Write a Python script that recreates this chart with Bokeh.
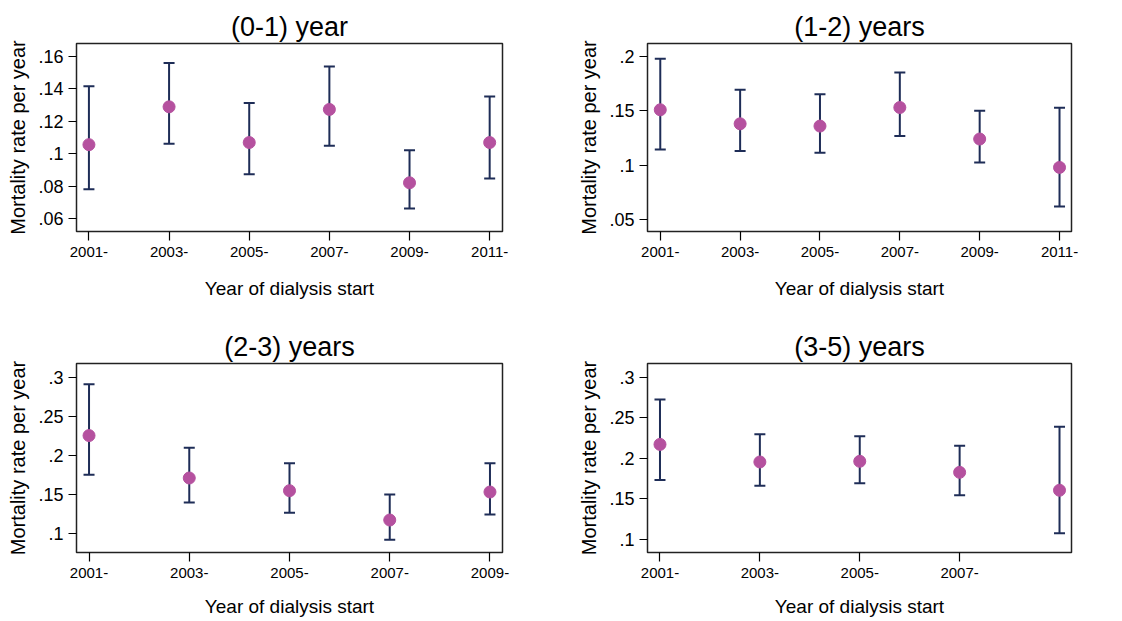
from bokeh.plotting import figure
from bokeh.layouts import column, row
from bokeh.models import ColumnDataSource, Whisker, TeeHead, FixedTicker, Range1d
from bokeh.embed import file_html
from bokeh.resources import INLINE

# ---------------- data ----------------
titles = ["(0-1) year", "(1-2) years", "(2-3) years", "(3-5) years"]

years_p1 = [2001, 2003, 2005, 2007, 2009, 2011]
rate_p1 = [0.1057, 0.129, 0.107, 0.1274, 0.0822, 0.107]
upper_p1 = [0.1417, 0.156, 0.1313, 0.1538, 0.1022, 0.1354]
lower_p1 = [0.0783, 0.1063, 0.0874, 0.105, 0.0663, 0.0849]

years_p2 = [2001, 2003, 2005, 2007, 2009, 2011]
rate_p2 = [0.151, 0.1381, 0.136, 0.1531, 0.1241, 0.098]
upper_p2 = [0.198, 0.1694, 0.1654, 0.1853, 0.1501, 0.1529]
lower_p2 = [0.1145, 0.113, 0.1115, 0.1268, 0.1026, 0.0621]

years_p3 = [2001, 2003, 2005, 2007, 2009]
rate_p3 = [0.2254, 0.1712, 0.155, 0.1175, 0.1533]
upper_p3 = [0.291, 0.21, 0.19, 0.15, 0.19]
lower_p3 = [0.1755, 0.14, 0.1269, 0.0923, 0.1246]

years_p4 = [2001, 2003, 2005, 2007, 2009]
rate_p4 = [0.217, 0.1953, 0.1961, 0.1825, 0.1604]
upper_p4 = [0.2725, 0.2294, 0.2269, 0.2154, 0.2388]
lower_p4 = [0.1731, 0.1661, 0.169, 0.1542, 0.1074]

xticks_p1 = [2001, 2003, 2005, 2007, 2009, 2011]
xlabels_p1 = ["2001-", "2003-", "2005-", "2007-", "2009-", "2011-"]
xticks_p2 = [2001, 2003, 2005, 2007, 2009, 2011]
xlabels_p2 = ["2001-", "2003-", "2005-", "2007-", "2009-", "2011-"]
xticks_p3 = [2001, 2003, 2005, 2007, 2009]
xlabels_p3 = ["2001-", "2003-", "2005-", "2007-", "2009-"]
xticks_p4 = [2001, 2003, 2005, 2007]
xlabels_p4 = ["2001-", "2003-", "2005-", "2007-"]

yticks_p1 = [0.06, 0.08, 0.1, 0.12, 0.14, 0.16]
ylabels_p1 = [".06", ".08", ".1", ".12", ".14", ".16"]
yticks_p2 = [0.05, 0.1, 0.15, 0.2]
ylabels_p2 = [".05", ".1", ".15", ".2"]
yticks_p3 = [0.1, 0.15, 0.2, 0.25, 0.3]
ylabels_p3 = [".1", ".15", ".2", ".25", ".3"]
yticks_p4 = [0.1, 0.15, 0.2, 0.25, 0.3]
ylabels_p4 = [".1", ".15", ".2", ".25", ".3"]

x_label = "Year of dialysis start"
y_label = "Mortality rate per year"

FONT = "Liberation Sans"
BAR = "#1e2d57"
DOT = "#b5519f"


def panel(title, years, rate, upper, lower, xticks, xlabels, yticks, ylabels,
          xr, yr, width, height, bl, br, bt, bb, xstand):
    p = figure(width=width, height=height, output_backend="svg", toolbar_location=None,
               x_range=Range1d(*xr), y_range=Range1d(*yr),
               min_border_left=bl, min_border_right=br, min_border_top=bt, min_border_bottom=bb)
    p.title.text = title
    p.title.align = "center"
    p.title.text_font = FONT
    p.title.text_font_size = "27px"
    p.title.text_font_style = "normal"
    p.title.text_color = "black"
    p.title.standoff = 4
    p.grid.visible = False
    p.outline_line_color = "#222222"
    p.outline_line_width = 1.5
    p.background_fill_color = "white"
    p.border_fill_color = "white"

    src = ColumnDataSource(dict(x=years, y=rate, upper=upper, lower=lower))
    w = Whisker(source=src, base="x", upper="upper", lower="lower",
                line_color=BAR, line_width=2,
                upper_head=TeeHead(size=11, line_color=BAR, line_width=2),
                lower_head=TeeHead(size=11, line_color=BAR, line_width=2))
    w.level = "underlay"
    p.add_layout(w)
    p.scatter("x", "y", source=src, size=12, fill_color=DOT, line_color=DOT)

    xa = p.xaxis[0]
    xa.ticker = FixedTicker(ticks=xticks)
    xa.major_label_overrides = {t: l for t, l in zip(xticks, xlabels)}
    xa.axis_label = x_label
    xa.axis_label_standoff = xstand
    xa.major_label_standoff = 6
    ya = p.yaxis[0]
    ya.ticker = FixedTicker(ticks=yticks)
    ya.major_label_overrides = {t: l for t, l in zip(yticks, ylabels)}
    ya.axis_label = y_label
    ya.axis_label_standoff = 6
    ya.major_label_standoff = 5
    for ax in (xa, ya):
        ax.minor_tick_line_color = None
        ax.major_tick_in = 0
        ax.major_tick_out = 8
        ax.major_tick_line_color = "black"
        ax.major_tick_line_width = 1.2
        ax.axis_line_color = None
        ax.axis_label_text_font = FONT
        ax.axis_label_text_font_style = "normal"
        ax.axis_label_text_color = "black"
        ax.major_label_text_font = FONT
        ax.major_label_text_color = "black"
    xa.major_tick_out = 9
    xa.major_label_text_font_size = "15px"
    xa.axis_label_text_font_size = "19px"
    ya.major_label_text_font_size = "18px"
    ya.axis_label_text_font_size = "20px"
    return p


p1 = panel(titles[0], years_p1, rate_p1, upper_p1, lower_p1, xticks_p1, xlabels_p1,
           yticks_p1, ylabels_p1, (2000.69, 2011.32), (0.0522, 0.168),
           560, 310, 76, 58, 43, 79, 18)
p2 = panel(titles[1], years_p2, rate_p2, upper_p2, lower_p2, xticks_p2, xlabels_p2,
           yticks_p2, ylabels_p2, (2000.68, 2011.3), (0.039, 0.212),
           556, 310, 87, 45, 43, 79, 18)
p3 = panel(titles[2], years_p3, rate_p3, upper_p3, lower_p3, xticks_p3, xlabels_p3,
           yticks_p3, ylabels_p3, (2000.75, 2009.25), (0.076, 0.3175),
           560, 310, 76, 58, 53, 68, 15)
p4 = panel(titles[3], years_p4, rate_p4, upper_p4, lower_p4, xticks_p4, xlabels_p4,
           yticks_p4, ylabels_p4, (2000.75, 2009.24), (0.0836, 0.3168),
           556, 310, 87, 45, 53, 68, 15)

layout = column(row(p1, p2), row(p3, p4))
open("out.html", "w").write(file_html(layout, INLINE))
